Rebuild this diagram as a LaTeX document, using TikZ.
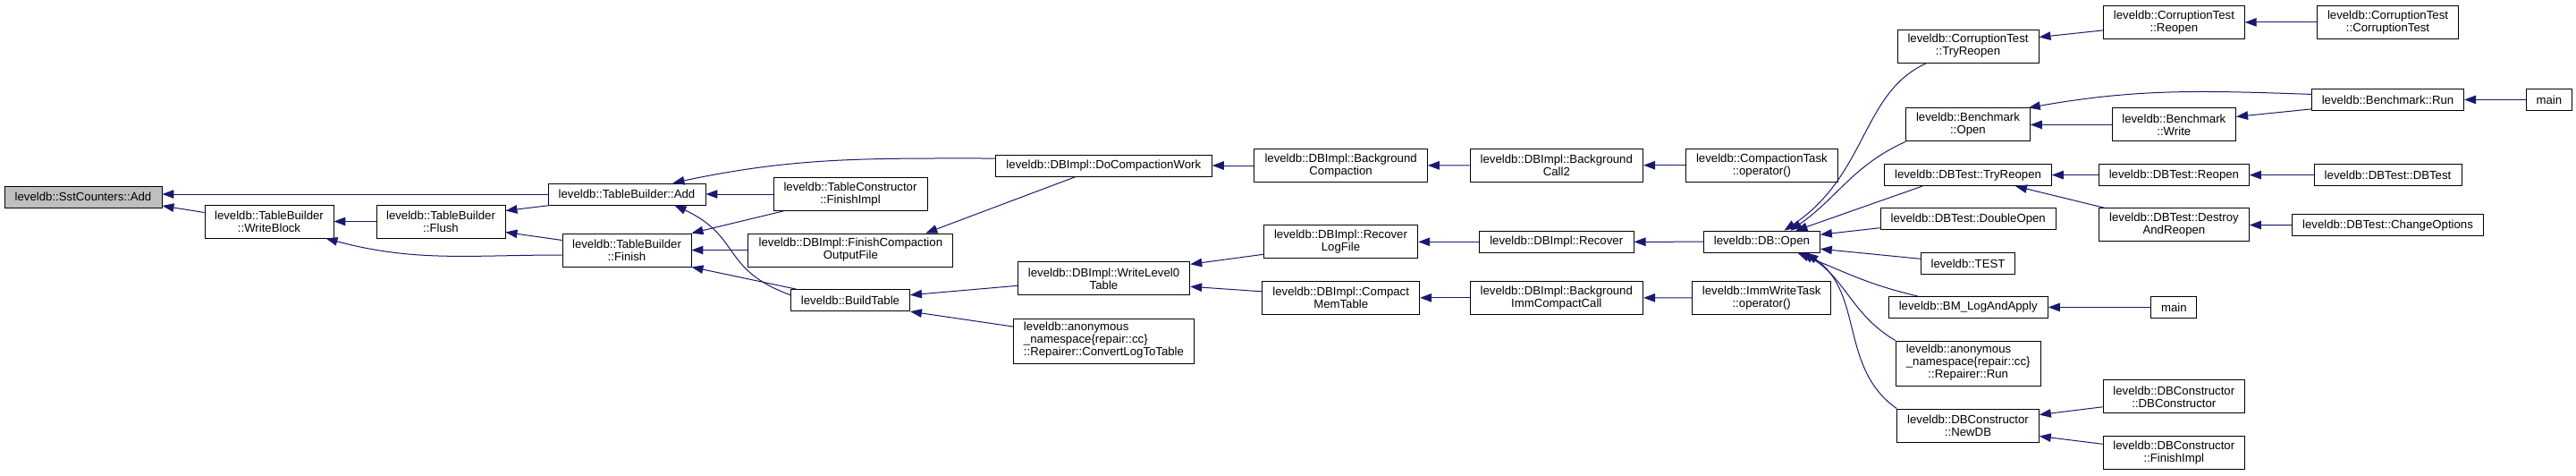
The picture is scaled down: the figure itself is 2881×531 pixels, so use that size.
\documentclass[tikz,border=0pt]{standalone}
\usepackage{fontspec}
\setmainfont{Liberation Sans}
\usepackage{tikz}
\usetikzlibrary{arrows.meta}

\definecolor{edgeblue}{HTML}{191970}
\definecolor{curfill}{HTML}{BFBFBF}

\begin{document}
\begin{tikzpicture}[
    x=1pt, y=1pt,
    fn/.style={draw=black, line width=0.9pt, inner sep=0pt, align=center,
        font=\fontsize{13.2}{14}\selectfont},
    one/.style={fn, minimum height=24},
    two/.style={fn, minimum height=37},
    three/.style={fn, minimum height=50},
    call/.style={draw=edgeblue, line width=1pt, -{Triangle[length=13pt, width=9.5pt]}}
]
\useasboundingbox (0,0) rectangle (2881,-531);

% Nodes
\node[one, fill=curfill, minimum width=176] (sstadd) at (93,-220) {leveldb::SstCounters::Add};
\node[two, minimum width=144] (wblock) at (301,-247.5) {leveldb::TableBuilder\\::WriteBlock};
\node[two, minimum width=144] (flush) at (493,-247.5) {leveldb::TableBuilder\\::Flush};
\node[one, minimum width=176] (tbadd) at (701,-217) {leveldb::TableBuilder::Add};
\node[two, minimum width=144] (finish) at (701,-279.5) {leveldb::TableBuilder\\::Finish};
\node[two, minimum width=172] (tcfinish) at (951,-217) {leveldb::TableConstructor\\::FinishImpl};
\node[two, minimum width=229] (fcof) at (951.4,-279.5) {leveldb::DBImpl::FinishCompaction\\OutputFile};
\node[one, minimum width=133] (buildtable) at (951,-335.7) {leveldb::BuildTable};
\node[one, minimum width=242] (docw) at (1234.3,-185) {leveldb::DBImpl::DoCompactionWork};
\node[two, minimum width=192.5] (wl0t) at (1234.5,-311.3) {leveldb::DBImpl::WriteLevel0\\Table};
\node[three, minimum width=202.5] (convlog) at (1234.5,-381) {\begin{tabular}{@{}l@{}}leveldb::anonymous\\\_namespace\{repair::cc\}\\\multicolumn{1}{@{}c@{}}{::Repairer::ConvertLogToTable}\end{tabular}};
\node[two, minimum width=193.5] (bgcomp) at (1499.6,-185) {leveldb::DBImpl::Background\\Compaction};
\node[two, minimum width=172.5] (reclog) at (1499.5,-270.3) {leveldb::DBImpl::Recover\\LogFile};
\node[two, minimum width=176] (compmem) at (1499.7,-332.8) {leveldb::DBImpl::Compact\\MemTable};
\node[two, minimum width=193.7] (bgcall2) at (1740.8,-184.7) {leveldb::DBImpl::Background\\Call2};
\node[one, minimum width=172.7] (recover) at (1740.7,-270.3) {leveldb::DBImpl::Recover};
\node[two, minimum width=193.7] (bgimm) at (1740.8,-332.8) {leveldb::DBImpl::Background\\ImmCompactCall};
\node[two, minimum width=170] (ctop) at (1970.4,-184.7) {leveldb::CompactionTask\\::operator()};
\node[one, minimum width=130] (dbopen) at (1970.4,-270.2) {leveldb::DB::Open};
\node[two, minimum width=155.4] (immop) at (1970.2,-332.9) {leveldb::ImmWriteTask\\::operator()};
\node[two, minimum width=158] (ctryreopen) at (2201,-51.5) {leveldb::CorruptionTest\\::TryReopen};
\node[two, minimum width=138.6] (bmopen) at (2201,-139.4) {leveldb::Benchmark\\::Open};
\node[one, minimum width=186.6] (dbtryreopen) at (2201,-195.6) {leveldb::DBTest::TryReopen};
\node[one, minimum width=196.3] (doubleopen) at (2201.2,-244.7) {leveldb::DBTest::DoubleOpen};
\node[one, minimum width=105.4] (test) at (2201,-294.3) {leveldb::TEST};
\node[one, minimum width=178.3] (bmlog) at (2201.2,-343.4) {leveldb::BM\_LogAndApply};
\node[three, minimum width=161.7] (repairrun) at (2201.2,-406) {\begin{tabular}{@{}l@{}}leveldb::anonymous\\\_namespace\{repair::cc\}\\\multicolumn{1}{@{}c@{}}{::Repairer::Run}\end{tabular}};
\node[two, minimum width=158.6] (newdb) at (2201,-475.5) {leveldb::DBConstructor\\::NewDB};
\node[two, minimum width=157.7] (creopen) at (2431.4,-24.9) {leveldb::CorruptionTest\\::Reopen};
\node[two, minimum width=138.6] (bmwrite) at (2431.3,-139.4) {leveldb::Benchmark\\::Write};
\node[one, minimum width=168] (dbreopen) at (2431.4,-195.6) {leveldb::DBTest::Reopen};
\node[two, minimum width=168] (destroy) at (2431.4,-251.3) {leveldb::DBTest::Destroy\\AndReopen};
\node[one, minimum width=50.8] (mainb) at (2431.3,-343.4) {main};
\node[two, minimum width=158.6] (dbcdbc) at (2431.3,-443.3) {leveldb::DBConstructor\\::DBConstructor};
\node[two, minimum width=158.6] (dbcfin) at (2431.3,-506.3) {leveldb::DBConstructor\\::FinishImpl};
\node[two, minimum width=158] (ccorr) at (2670.5,-24.9) {leveldb::CorruptionTest\\::CorruptionTest};
\node[one, minimum width=170.3] (bmrun) at (2670.5,-111.4) {leveldb::Benchmark::Run};
\node[one, minimum width=165] (dbdbtest) at (2670.5,-195.6) {leveldb::DBTest::DBTest};
\node[one, minimum width=214.6] (changeopt) at (2670.5,-251.8) {leveldb::DBTest::ChangeOptions};
\node[one, minimum width=50.5] (maina) at (2850.8,-111.4) {main};

% Arrows (caller -> callee)
\draw[call] (tbadd.west) -- (sstadd.east |- tbadd.west);
\draw[call] ([yshift=10]wblock.west) -- ([yshift=-10]sstadd.east);
\draw[call] (flush) -- (wblock);
\draw[call] ([yshift=-5.5]finish.west) to[out=180, in=-15] ([xshift=-9]wblock.south east);
\draw[call] ([xshift=3]tbadd.south west) -- ([yshift=12]flush.east);
\draw[call] ([yshift=11]finish.west) -- ([yshift=-12]flush.east);
\draw[call] (tcfinish) -- (tbadd);
\draw[call] ([xshift=-75]tcfinish.south) -- (finish.north east);
\draw[call] ([yshift=8]docw.west) to[out=180, in=12] ([xshift=-37]tbadd.north east);
\draw[call] ([xshift=-31]docw.south) -- ([xshift=-31]fcof.north east);
\draw[call] (fcof) -- (finish);
\draw[call] ([xshift=7]buildtable.north west) -- (finish.south east);
\draw[call] ([yshift=6]buildtable.west) to[out=160, in=-25, looseness=1.3] ([xshift=-35]tbadd.south east);
\draw[call] ([yshift=-8]wl0t.west) -- ([yshift=6]buildtable.east);
\draw[call] ([yshift=16]convlog.west) -- (buildtable.south east);
\draw[call] (bgcomp) -- (docw);
\draw[call] ([yshift=-14]reclog.west) -- ([yshift=16]wl0t.east);
\draw[call] ([yshift=7]compmem.west) -- ([yshift=-9]wl0t.east);
\draw[call] (bgcall2) -- (bgcomp);
\draw[call] (recover) -- (reclog);
\draw[call] (bgimm) -- (compmem);
\draw[call] (ctop) -- (bgcall2);
\draw[call] (dbopen) -- (recover);
\draw[call] (immop) -- (bgimm);

% callers of DB::Open
\draw[call] ([xshift=-46]ctryreopen.south) to[out=204, in=34, out distance=80, in distance=113] ([xshift=25]dbopen.north);
\draw[call] (bmopen.south west) to[out=204, in=35] ([xshift=32]dbopen.north);
\draw[call] ([xshift=-51]dbtryreopen.south) -- ([xshift=38]dbopen.north);
\draw[call] ([yshift=-10]doubleopen.west) -- ([yshift=8]dbopen.east);
\draw[call] ([yshift=5]test.west) -- ([yshift=-8]dbopen.east);
\draw[call] ([xshift=33]bmlog.north west) to[out=167, in=-22] ([xshift=40]dbopen.south);
\draw[call] (repairrun.north west) to[out=150, in=-30] ([xshift=45]dbopen.south);
\draw[call] (newdb.north west) to[out=145, in=-35] ([xshift=50]dbopen.south);

% test side
\draw[call] ([yshift=-9]creopen.west) -- ([yshift=10]ctryreopen.east);
\draw[call] (ccorr) -- (creopen);
\draw[call] ([yshift=6]bmrun.west) to[out=178, in=10] ([xshift=-2]bmopen.north east);
\draw[call] (bmwrite) -- (bmopen);
\draw[call] ([yshift=-10.5]bmrun.west) -- ([yshift=9]bmwrite.east);
\draw[call] (maina) -- (bmrun);
\draw[call] (dbreopen) -- (dbtryreopen);
\draw[call] (dbdbtest) -- (dbreopen);
\draw[call] ([xshift=7]destroy.north west) -- ([xshift=53]dbtryreopen.south);
\draw[call] (changeopt) -- (destroy);
\draw[call] (mainb) -- (bmlog);
\draw[call] ([yshift=-11.5]dbcdbc.west) -- ([yshift=12]newdb.east);
\draw[call] ([yshift=10]dbcfin.west) -- ([yshift=-12]newdb.east);

\end{tikzpicture}
\end{document}
